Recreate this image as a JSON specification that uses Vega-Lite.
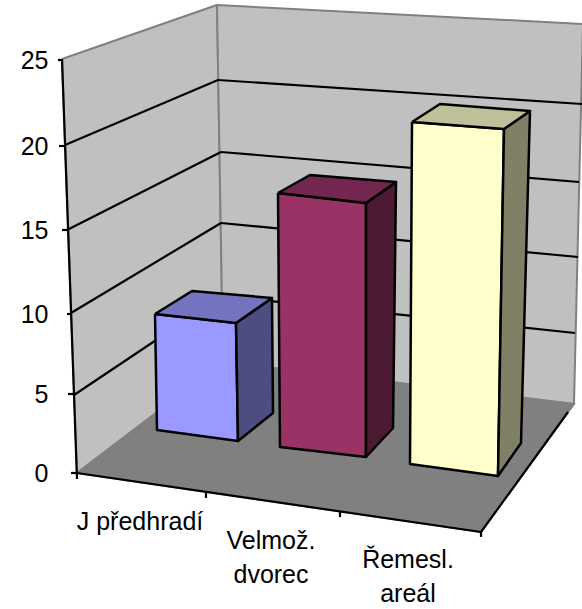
{
"$schema":"https://vega.github.io/schema/vega-lite/v6.json",
"width":582,"height":609,"padding":0,"autosize":"none","background":"white",
"config":{"view":{"stroke":null}},
"datasets":{
"room":[
{"part":"wallL","i":0,"x":62,"y":59},{"part":"wallL","i":1,"x":217,"y":5},{"part":"wallL","i":2,"x":223,"y":362},{"part":"wallL","i":3,"x":77,"y":473},{"part":"wallL","i":4,"x":62,"y":59},
{"part":"wallB","i":0,"x":217,"y":5},{"part":"wallB","i":1,"x":583,"y":24},{"part":"wallB","i":2,"x":574,"y":404},{"part":"wallB","i":3,"x":223,"y":362},{"part":"wallB","i":4,"x":217,"y":5},
{"part":"floor","i":0,"x":77,"y":473},{"part":"floor","i":1,"x":223,"y":362},{"part":"floor","i":2,"x":574,"y":404},{"part":"floor","i":3,"x":481,"y":532},{"part":"floor","i":4,"x":77,"y":473}
],
"lines":[
{"x":65,"y":145,"x2":218,"y2":80},{"x":218,"y":80,"x2":582,"y2":104},
{"x":67,"y":230,"x2":221,"y2":152},{"x":221,"y":152,"x2":579,"y2":182},
{"x":71,"y":313,"x2":221,"y2":223},{"x":221,"y":223,"x2":578,"y2":257},
{"x":74,"y":395,"x2":222,"y2":296},{"x":222,"y":296,"x2":575,"y2":333},
{"x":62,"y":59,"x2":77,"y2":479},{"x":77,"y":473,"x2":481,"y2":532},{"x":481,"y":532,"x2":568,"y2":412},
{"x":206,"y":491,"x2":206,"y2":498},{"x":340,"y":511,"x2":340,"y2":517},{"x":481,"y":532,"x2":481,"y2":537}
],
"ticks":[
{"value":0,"x":71,"x2":77},{"value":5,"x":68,"x2":74},{"value":10,"x":67,"x2":71},{"value":15,"x":62,"x2":68},{"value":20,"x":59,"x2":65},{"value":25,"x":58,"x2":62}
],
"bars":[
{"category":"J předhradí","value":8,"part":"b1front","i":0,"x":155,"y":314},{"category":"J předhradí","value":8,"part":"b1front","i":1,"x":236,"y":323},{"category":"J předhradí","value":8,"part":"b1front","i":2,"x":238,"y":441},{"category":"J předhradí","value":8,"part":"b1front","i":3,"x":157,"y":430},{"category":"J předhradí","value":8,"part":"b1front","i":4,"x":155,"y":314},
{"category":"J předhradí","value":8,"part":"b1side","i":0,"x":236,"y":323},{"category":"J předhradí","value":8,"part":"b1side","i":1,"x":272,"y":298},{"category":"J předhradí","value":8,"part":"b1side","i":2,"x":273,"y":413},{"category":"J předhradí","value":8,"part":"b1side","i":3,"x":238,"y":441},{"category":"J předhradí","value":8,"part":"b1side","i":4,"x":236,"y":323},
{"category":"J předhradí","value":8,"part":"b1top","i":0,"x":155,"y":314},{"category":"J předhradí","value":8,"part":"b1top","i":1,"x":192,"y":291},{"category":"J předhradí","value":8,"part":"b1top","i":2,"x":272,"y":298},{"category":"J předhradí","value":8,"part":"b1top","i":3,"x":236,"y":323},{"category":"J předhradí","value":8,"part":"b1top","i":4,"x":155,"y":314},
{"category":"Velmož. dvorec","value":16,"part":"b2front","i":0,"x":278,"y":193},{"category":"Velmož. dvorec","value":16,"part":"b2front","i":1,"x":366,"y":203},{"category":"Velmož. dvorec","value":16,"part":"b2front","i":2,"x":366,"y":457},{"category":"Velmož. dvorec","value":16,"part":"b2front","i":3,"x":280,"y":447},{"category":"Velmož. dvorec","value":16,"part":"b2front","i":4,"x":278,"y":193},
{"category":"Velmož. dvorec","value":16,"part":"b2side","i":0,"x":366,"y":203},{"category":"Velmož. dvorec","value":16,"part":"b2side","i":1,"x":396,"y":182},{"category":"Velmož. dvorec","value":16,"part":"b2side","i":2,"x":393,"y":428},{"category":"Velmož. dvorec","value":16,"part":"b2side","i":3,"x":366,"y":457},{"category":"Velmož. dvorec","value":16,"part":"b2side","i":4,"x":366,"y":203},
{"category":"Velmož. dvorec","value":16,"part":"b2top","i":0,"x":278,"y":193},{"category":"Velmož. dvorec","value":16,"part":"b2top","i":1,"x":310,"y":175},{"category":"Velmož. dvorec","value":16,"part":"b2top","i":2,"x":396,"y":182},{"category":"Velmož. dvorec","value":16,"part":"b2top","i":3,"x":366,"y":203},{"category":"Velmož. dvorec","value":16,"part":"b2top","i":4,"x":278,"y":193},
{"category":"Řemesl. areál","value":22,"part":"b3front","i":0,"x":412,"y":122},{"category":"Řemesl. areál","value":22,"part":"b3front","i":1,"x":504,"y":129},{"category":"Řemesl. areál","value":22,"part":"b3front","i":2,"x":498,"y":476},{"category":"Řemesl. areál","value":22,"part":"b3front","i":3,"x":410,"y":464},{"category":"Řemesl. areál","value":22,"part":"b3front","i":4,"x":412,"y":122},
{"category":"Řemesl. areál","value":22,"part":"b3side","i":0,"x":504,"y":129},{"category":"Řemesl. areál","value":22,"part":"b3side","i":1,"x":530,"y":111},{"category":"Řemesl. areál","value":22,"part":"b3side","i":2,"x":521,"y":443},{"category":"Řemesl. areál","value":22,"part":"b3side","i":3,"x":498,"y":476},{"category":"Řemesl. areál","value":22,"part":"b3side","i":4,"x":504,"y":129},
{"category":"Řemesl. areál","value":22,"part":"b3top","i":0,"x":412,"y":122},{"category":"Řemesl. areál","value":22,"part":"b3top","i":1,"x":440,"y":104},{"category":"Řemesl. areál","value":22,"part":"b3top","i":2,"x":530,"y":111},{"category":"Řemesl. areál","value":22,"part":"b3top","i":3,"x":504,"y":129},{"category":"Řemesl. areál","value":22,"part":"b3top","i":4,"x":412,"y":122}
],
"labels":[
{"category":"J předhradí","x":140,"y":510},
{"category":"Velmož.\ndvorec","x":271,"y":529},
{"category":"Řemesl.\nareál","x":408,"y":548}
]
},
"layer":[
{"layer":[
{"data":{"name":"room"},"mark":{"type":"line","filled":true,"stroke":"#808080","strokeWidth":2,"clip":false},
"encoding":{"x":{"field":"x","type":"quantitative","scale":{"domain":[0,582],"nice":false,"zero":false},"axis":null},
"y":{"field":"y","type":"quantitative","scale":{"domain":[609,0],"nice":false,"zero":false},"axis":null},
"order":{"field":"i"},
"fill":{"field":"part","type":"nominal","legend":null,"scale":{"domain":["wallL","wallB","floor","b1front","b1side","b1top","b2front","b2side","b2top","b3front","b3side","b3top"],"range":["#C0C0C0","#C0C0C0","#808080","#9999FF","#4D4D80","#7373BF","#993366","#4D1A33","#732650","#FFFFCC","#808066","#BFBF99"]}}}},
{"data":{"name":"lines"},"mark":{"type":"rule","color":"black","strokeWidth":2.2},
"encoding":{"x":{"field":"x","type":"quantitative"},"y":{"field":"y","type":"quantitative"},"x2":{"field":"x2"},"y2":{"field":"y2"}}},
{"data":{"name":"bars"},"mark":{"type":"line","filled":true,"stroke":"black","strokeWidth":2.5,"strokeJoin":"round"},
"encoding":{"x":{"field":"x","type":"quantitative"},"y":{"field":"y","type":"quantitative"},
"order":{"field":"i"},
"fill":{"field":"part","type":"nominal","legend":null,"scale":{"domain":["wallL","wallB","floor","b1front","b1side","b1top","b2front","b2side","b2top","b3front","b3side","b3top"],"range":["#C0C0C0","#C0C0C0","#808080","#9999FF","#4D4D80","#7373BF","#993366","#4D1A33","#732650","#FFFFCC","#808066","#BFBF99"]}}}},
{"data":{"name":"labels"},"mark":{"type":"text","font":"Liberation Sans","fontSize":25,"color":"black","align":"center","baseline":"top","lineBreak":"\n","lineHeight":34},
"encoding":{"x":{"field":"x","type":"quantitative"},"y":{"field":"y","type":"quantitative"},"text":{"field":"category"}}}
]},
{"data":{"name":"ticks"},"mark":{"type":"rule","color":"black","strokeWidth":2.2},
"encoding":{"x":{"field":"x","type":"quantitative"},"x2":{"field":"x2"},
"y":{"field":"value","type":"quantitative","scale":{"domain":[0,5,10,15,20,25],"range":[473,394,314,230,146,60]},
"axis":{"orient":"left","offset":-48,"title":null,"values":[0,5,10,15,20,25],"domain":false,"ticks":false,"grid":false,"labelPadding":0,"labelFont":"Liberation Sans","labelFontSize":25,"labelColor":"black",
"encode":{"labels":{"update":{"dx":{"signal":"(25-datum.value)*0.56"}}}}}}}}
],
"resolve":{"scale":{"y":"independent"},"axis":{"y":"independent"}}
}
